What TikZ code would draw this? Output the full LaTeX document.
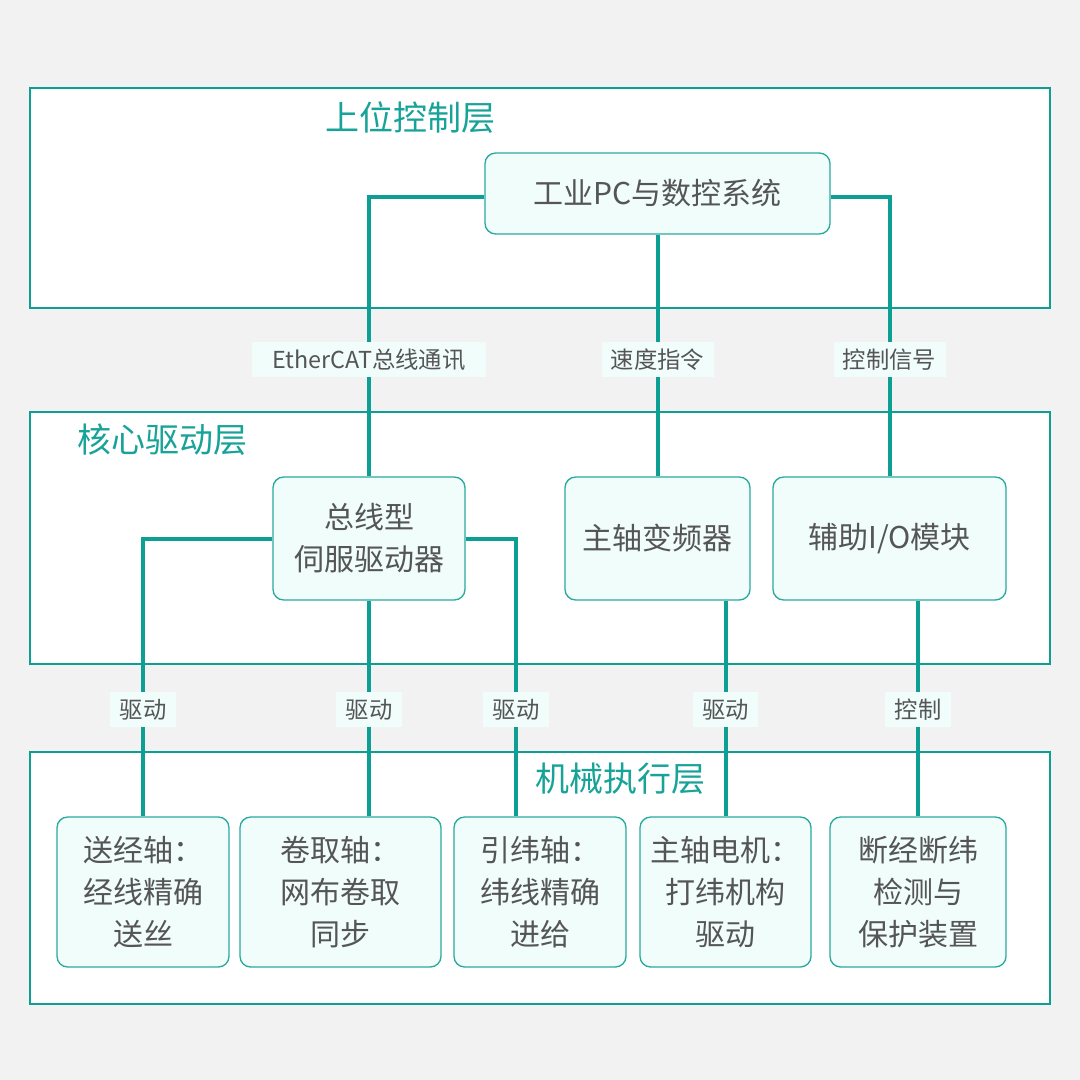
\documentclass[tikz,border=0pt]{standalone}
\usepackage{fontspec}
\setmainfont{Noto Sans CJK SC}
\usetikzlibrary{backgrounds}
\definecolor{bg}{HTML}{F2F2F2}
\definecolor{teal1}{HTML}{0E9F94}
\definecolor{nodeborder}{HTML}{2AAA9F}
\definecolor{nodefill}{HTML}{F0FDFA}
\definecolor{txt}{HTML}{555555}
\definecolor{ttl}{HTML}{17A398}
\pgfdeclarelayer{back}
\pgfsetlayers{back,background,main}
\begin{document}
\begin{tikzpicture}[x=0.75pt,y=-0.75pt,
  layer/.style={draw=teal1, fill=white, line width=1.5pt},
  box/.style={draw=nodeborder, fill=nodefill, line width=1pt, rounded corners=8pt,
    text=txt, font=\fontsize{22.5}{31.5}\selectfont, align=center, inner sep=0pt},
  conn/.style={draw=teal1, line width=3pt},
  lbl/.style={fill=nodefill, text=txt, font=\fontsize{17.5}{20}\selectfont, inner xsep=7pt, minimum height=26pt},
  title/.style={text=ttl, font=\fontsize{25.5}{30}\selectfont}]
\begin{pgfonlayer}{back}
\fill[bg] (0,0) rectangle (1080,1080);
\draw[layer] (30,88) rectangle (1050,308);
\draw[layer] (30,412) rectangle (1050,664);
\draw[layer] (30,752) rectangle (1050,1004);
\end{pgfonlayer}
\useasboundingbox (0,0) rectangle (1080,1080);
\node[title] (t1) at (410,118) {上位控制层};
\node[title] (t2) at (162,440) {核心驱动层};
\node[title] (t3) at (620,779) {机械执行层};
% nodes
\node[box, minimum width=258.75pt, minimum height=60.75pt] (pc) at (657.5,193.5) {工业PC与数控系统};
\node[box, minimum width=144pt, minimum height=92.25pt] (servo) at (369,538.5) {总线型\\伺服驱动器};
\node[box, minimum width=138.75pt, minimum height=92.25pt] (vfd) at (657.5,538.5) {主轴变频器};
\node[box, minimum width=174.75pt, minimum height=92.25pt] (io) at (889.5,538.5) {辅助I/O模块};
\node[box, minimum width=129pt, minimum height=112.5pt] (n1) at (143,892) {送经轴：\\经线精确\\送丝};
\node[box, minimum width=150.75pt, minimum height=112.5pt] (n2) at (340.5,892) {卷取轴：\\网布卷取\\同步};
\node[box, minimum width=129pt, minimum height=112.5pt] (n3) at (540,892) {引纬轴：\\纬线精确\\进给};
\node[box, minimum width=128.25pt, minimum height=112.5pt] (n4) at (725.5,892) {主轴电机：\\打纬机构\\驱动};
\node[box, minimum width=132pt, minimum height=112.5pt] (n5) at (918,892) {断经断纬\\检测与\\保护装置};
% connectors
\begin{pgfonlayer}{background}
\draw[conn] ([yshift=-2.6pt]pc.west) -| (servo.north);
\draw[conn] (pc.south) -- (vfd.north);
\draw[conn] ([yshift=-2.6pt]pc.east) -| (io.north);
\draw[conn] (servo.west) -| (n1.north);
\draw[conn] (servo.south) -- (servo.south |- n2.north);
\draw[conn] (servo.east) -| ([xshift=-18pt]n3.north);
\draw[conn] (n4.north |- vfd.south) -- (n4.north);
\draw[conn] (n5.north |- io.south) -- (n5.north);
\end{pgfonlayer}
% labels
\node[lbl, minimum width=175pt] (l1) at (369,359.5) {EtherCAT总线通讯};
\node[lbl] (l2) at (657.5,359.5) {速度指令};
\node[lbl] (l3) at (889.5,359.5) {控制信号};
\node[lbl] (l4) at (143,709.5) {驱动};
\node[lbl] (l5) at (369,709.5) {驱动};
\node[lbl] (l6) at (516,709.5) {驱动};
\node[lbl] (l7) at (725.5,709.5) {驱动};
\node[lbl] (l8) at (918,709.5) {控制};
\end{tikzpicture}
\end{document}
